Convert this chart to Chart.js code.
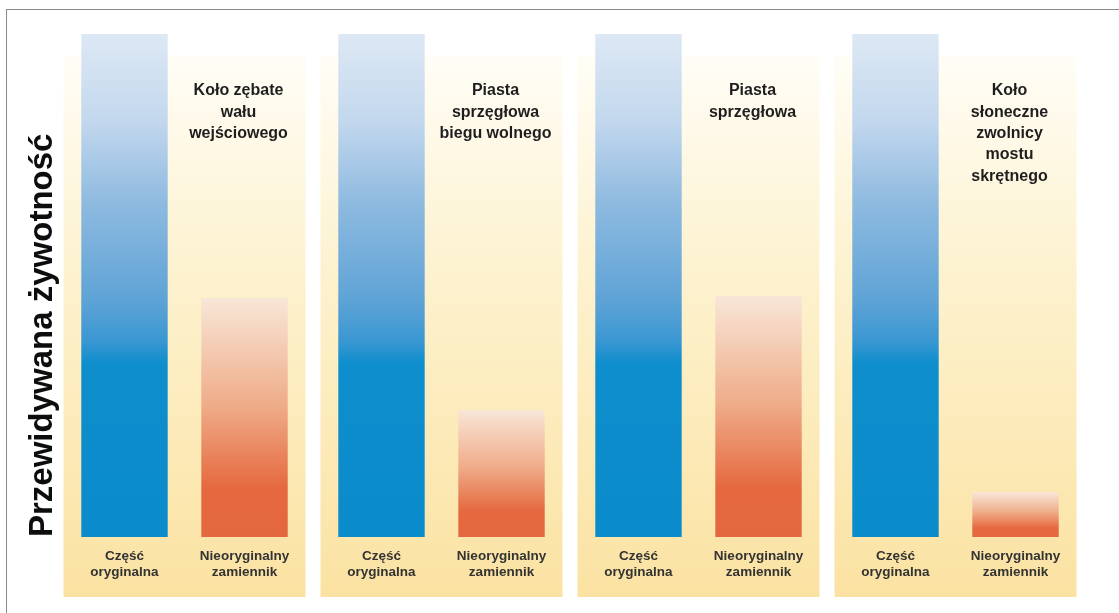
<!DOCTYPE html>
<html lang="pl">
<head>
<meta charset="utf-8">
<title>Przewidywana żywotność</title>
<script src="https://cdn.jsdelivr.net/npm/chart.js@4/dist/chart.umd.min.js"></script>
<style>
  html, body { margin: 0; padding: 0; background: #fff; }
  #wrap { position: relative; width: 1119px; height: 613px; overflow: hidden; }
  #frame { position: absolute; left: 6px; top: 9px; right: -2px; bottom: -2px;
           border-left: 1px solid #8a8a8a; border-top: 1px solid #8a8a8a; }
  #chart { position: absolute; left: 0; top: 0; }
</style>
</head>
<body>
<div id="wrap">
  <div id="frame"></div>
  <canvas id="chart" width="1119" height="613"></canvas>
</div>
<script>
// --- dane ---
const panelTitles = [
  ['Koło zębate', 'wału', 'wejściowego'],
  ['Piasta', 'sprzęgłowa', 'biegu wolnego'],
  ['Piasta', 'sprzęgłowa'],
  ['Koło', 'słoneczne', 'zwolnicy', 'mostu', 'skrętnego']
];
const seriesNames = ['Część oryginalna', 'Nieoryginalny zamiennik'];
const barLabels = [['Część', 'oryginalna'], ['Nieoryginalny', 'zamiennik']];
const originalLife = [100, 100, 100, 100];
const replacementLife = [47.5, 25.2, 47.9, 8.9];
const axisTitle = 'Przewidywana żywotność';

const FONT = '"Liberation Sans", Arial, Helvetica, sans-serif';

// gradient dla słupka liczony od jego wierzchołka do podstawy
function barGradient(ctx, stops) {
  const chart = ctx.chart;
  if (!chart.chartArea || ctx.type !== 'data') return stops[stops.length - 1][1];
  const y = chart.scales.y;
  const top = y.getPixelForValue(ctx.raw);
  const bottom = y.getPixelForValue(0);
  const g = chart.ctx.createLinearGradient(0, top, 0, bottom);
  stops.forEach(s => g.addColorStop(s[0], s[1]));
  return g;
}

const blueStops = [[0, '#dde8f4'], [0.17, '#c3d8ee'], [0.33, '#90bbe0'], [0.53, '#5ea3d6'],
                   [0.61, '#3a97d2'], [0.655, '#0f8ecd'], [1, '#0a8bcb']];
const orangeStops = [[0, '#f8e6d8'], [0.45, '#efac88'], [0.8, '#e5683f'], [1, '#e4683f']];

// tła paneli (biały u góry -> jasnożółty u dołu)
const panelPlugin = {
  id: 'panels',
  beforeDatasetsDraw(chart) {
    const {ctx, chartArea} = chart;
    const x = chart.scales.x;
    const top = chartArea.top + 22;
    const bottom = chartArea.bottom + 60;
    const halfW = 121;
    ctx.save();
    panelTitles.forEach((_, i) => {
      const cx = x.getPixelForValue(i);
      const g = ctx.createLinearGradient(0, top, 0, bottom);
      g.addColorStop(0, '#fffdf6');
      g.addColorStop(0.4, '#fdf2cf');
      g.addColorStop(1, '#fbe2a2');
      ctx.fillStyle = g;
      ctx.fillRect(cx - halfW, top, halfW * 2, bottom - top);
    });
    ctx.restore();
  }
};

// tytuły paneli nad słupkiem zamiennika i podpisy pod słupkami
const labelPlugin = {
  id: 'labels',
  afterDatasetsDraw(chart) {
    const {ctx, chartArea} = chart;
    const metaRepl = chart.getDatasetMeta(1);
    ctx.save();
    ctx.textAlign = 'center';
    ctx.textBaseline = 'middle';

    ctx.fillStyle = '#1e1e1e';
    ctx.font = 'bold 16px ' + FONT;
    panelTitles.forEach((lines, i) => {
      const bx = metaRepl.data[i].x - 6;
      lines.forEach((t, k) => ctx.fillText(t, bx, chartArea.top + 57 + k * 21.3));
    });

    ctx.fillStyle = '#333';
    ctx.font = 'bold 13.5px ' + FONT;
    [0, 1].forEach(d => {
      const meta = chart.getDatasetMeta(d);
      meta.data.forEach(bar => {
        barLabels[d].forEach((t, k) => ctx.fillText(t, bar.x, chartArea.bottom + 19 + k * 16.5));
      });
    });
    ctx.restore();
  }
};

new Chart(document.getElementById('chart'), {
  type: 'bar',
  data: {
    labels: panelTitles,
    datasets: [{
      label: seriesNames[0],
      data: originalLife,
      backgroundColor: ctx => barGradient(ctx, blueStops),
      borderWidth: 0
    }, {
      label: seriesNames[1],
      data: replacementLife,
      backgroundColor: ctx => barGradient(ctx, orangeStops),
      borderWidth: 0
    }]
  },
  options: {
    responsive: false,
    animation: false,
    layout: { padding: { top: 34, right: 35, bottom: 76, left: 0 } },
    categoryPercentage: 0.934,
    barPercentage: 0.72,
    plugins: {
      legend: { display: false },
      tooltip: { enabled: false }
    },
    scales: {
      x: { display: false },
      y: {
        min: 0,
        max: 100,
        afterFit: s => { s.width = 56; },
        grid: { display: false },
        border: { display: false },
        ticks: { display: false },
        title: {
          display: true,
          text: axisTitle,
          align: 'start',
          color: '#0d0d0d',
          font: { family: FONT, size: 33, weight: 'bold', lineHeight: 1 },
          padding: { top: 26, bottom: 0 }
        }
      }
    }
  },
  plugins: [panelPlugin, labelPlugin]
});
</script>
</body>
</html>
